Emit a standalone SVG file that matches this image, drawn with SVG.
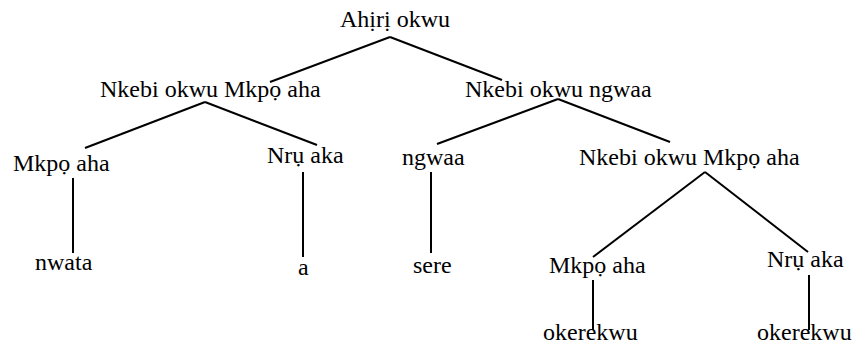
<svg xmlns="http://www.w3.org/2000/svg" width="854" height="345" viewBox="0 0 854 345">
<style>
text{font-family:"Liberation Serif","Times New Roman",serif;font-size:24px;fill:#000}
.e{stroke:#000;stroke-width:2;fill:none}
</style>
<rect width="854" height="345" fill="#fff"/>
<g id="connectors">
<line class="e" x1="390" y1="37" x2="270" y2="82"/>
<line class="e" x1="390" y1="37" x2="502" y2="80"/>
<line class="e" x1="205" y1="102" x2="85" y2="148"/>
<line class="e" x1="205" y1="102" x2="317" y2="145"/>
<line class="e" x1="558" y1="99" x2="437" y2="144"/>
<line class="e" x1="558" y1="99" x2="670" y2="142"/>
<line class="e" x1="73" y1="178" x2="73" y2="253"/>
<line class="e" x1="303" y1="172" x2="303" y2="257"/>
<line class="e" x1="431" y1="172" x2="431" y2="253"/>
<line class="e" x1="705" y1="172" x2="593" y2="257"/>
<line class="e" x1="705" y1="172" x2="808" y2="252"/>
<line class="e" x1="593" y1="280" x2="593" y2="330"/>
<line class="e" x1="809" y1="275" x2="809" y2="330"/>
</g>
<g id="root"><text x="340" y="27">Ahịrị okwu</text></g>
<g id="np1"><text x="100" y="97">Nkebi okwu Mkpọ aha</text></g>
<g id="vp"><text x="465" y="97">Nkebi okwu ngwaa</text></g>
<g id="n1"><text x="13" y="171">Mkpọ aha</text></g>
<g id="det1"><text x="267" y="163">Nrụ aka</text></g>
<g id="v"><text x="402" y="165">ngwaa</text></g>
<g id="np2"><text x="579" y="165">Nkebi okwu Mkpọ aha</text></g>
<g id="w1"><text x="35" y="270">nwata</text></g>
<g id="w2"><text x="298" y="275">a</text></g>
<g id="w3"><text x="413" y="273">sere</text></g>
<g id="n2"><text x="549" y="273">Mkpọ aha</text></g>
<g id="det2"><text x="767" y="267">Nrụ aka</text></g>
<g id="w4"><text x="543" y="340">okerekwu</text></g>
<g id="w5"><text x="757" y="340">okerekwu</text></g>
</svg>
